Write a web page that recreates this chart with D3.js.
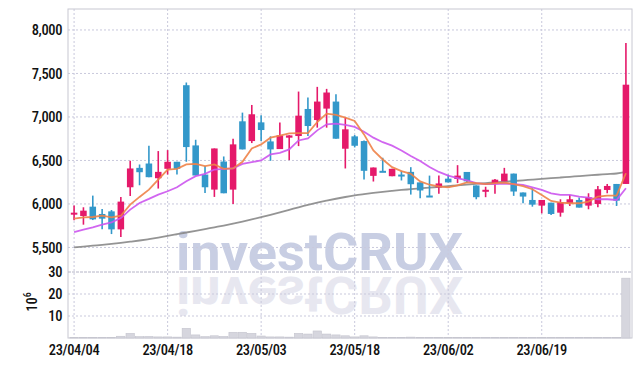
<!DOCTYPE html>
<html><head><meta charset="utf-8">
<script src="https://cdn.jsdelivr.net/npm/d3@7"></script>
<style>
html,body{margin:0;padding:0;background:#fff;}
svg{display:block;}
</style></head>
<body>
<svg id="chart" width="642" height="366" xmlns:xlink="http://www.w3.org/1999/xlink"></svg>
<script>
const dates = ["23/04/04","23/04/05","23/04/06","23/04/07","23/04/10","23/04/11","23/04/12","23/04/13","23/04/14","23/04/17",
"23/04/18","23/04/19","23/04/20","23/04/21","23/04/24","23/04/25","23/04/26","23/04/27","23/04/28","23/05/02",
"23/05/03","23/05/04","23/05/08","23/05/09","23/05/10","23/05/11","23/05/12","23/05/15","23/05/16","23/05/17",
"23/05/18","23/05/19","23/05/22","23/05/23","23/05/24","23/05/25","23/05/26","23/05/30","23/05/31","23/06/01",
"23/06/02","23/06/05","23/06/07","23/06/08","23/06/09","23/06/12","23/06/13","23/06/14","23/06/15","23/06/16",
"23/06/19","23/06/20","23/06/21","23/06/22","23/06/23","23/06/26","23/06/27","23/06/28","23/06/29","23/06/30"];
const openP  = [5885,5862,5969,5885,5915,5708,6192,6415,6465,6296,6404,6485,7365,6673,6338,6165,6488,6165,6950,6723,
6938,6719,6631,6762,6781,7092,6965,7096,7177,6635,6777,6723,6323,6381,6319,6338,6369,6248,6097,6190,
6291,6287,6368,6213,6143,6240,6260,6349,6132,6046,5981,6015,5900,6008,6046,5981,6000,6161,6230,6230];
const highP  = [5981,5962,6096,5942,5931,6081,6496,6454,6669,6608,6619,6485,7396,6738,6435,6638,6546,6750,7050,7138,
7019,6777,6935,6790,7292,7223,7346,7323,7262,6996,6792,6730,6419,6531,6404,6381,6423,6248,6326,6326,
6337,6446,6368,6213,6198,6287,6415,6349,6132,6180,6046,6015,6054,6104,6073,6123,6207,6230,6230,7851];
const lowP   = [5812,5762,5815,5708,5654,5619,6092,6215,6308,6177,6338,6338,6485,6327,6127,6081,6123,6000,6627,6700,
6723,6496,6631,6504,6665,6781,6877,6877,6750,6408,6650,6281,6258,6373,6319,6270,6108,6066,6093,6116,
6248,6240,6245,6054,6078,6116,6260,6093,6008,5969,5892,5873,5854,5977,5958,5939,5962,6123,5977,6230];
const closeP = [5900,5923,5823,5831,5708,6027,6408,6365,6308,6369,6485,6404,6654,6327,6192,6638,6123,6685,6627,7031,
6850,6627,6788,6788,7015,6896,7177,7281,6750,6858,6669,6381,6419,6373,6404,6327,6227,6155,6093,6236,
6248,6326,6260,6078,6163,6279,6349,6143,6085,5992,6046,5885,6019,6054,5958,6077,6169,6207,6038,7371];
const volume = [0.3,0.2,0.3,0.2,0.3,0.8,2.1,0.6,0.7,0.5,0.5,0.4,4.4,1.4,0.6,1.0,0.7,2.6,2.6,2.1,
0.9,0.5,0.5,0.4,2.1,1.8,3.2,1.8,1.4,1.0,0.5,1.0,0.5,0.3,0.3,0.2,0.4,0.3,0.2,0.3,
0.3,0.3,0.3,0.3,0.2,0.2,0.3,0.3,0.2,0.2,0.3,0.2,0.3,0.2,0.2,0.3,0.3,0.2,0.3,27.2];
const ma5 = [5831,5846,5850,5865,5846,5865,5992,6081,6165,6281,6396,6404,6454,6461,6435,6454,6404,6408,6485,6638,
6685,6762,6785,6811,6815,6815,6942,7038,7023,6992,6954,6800,6615,6511,6423,6377,6346,6260,6221,6202,
6190,6213,6248,6240,6229,6240,6245,6229,6205,6169,6104,6035,6015,6008,6008,6027,6085,6096,6096,6353];
const ma20 = [5677,5704,5731,5762,5788,5838,5935,6012,6058,6108,6146,6192,6262,6319,6346,6396,6404,6408,6461,6481,
6500,6569,6588,6627,6730,6754,6846,6915,6923,6908,6885,6831,6762,6710,6670,6615,6552,6494,6425,6368,
6326,6298,6271,6240,6229,6229,6233,6229,6219,6192,6161,6123,6104,6104,6085,6073,6054,6054,6046,6180];
const ma120 = [5500,5510,5520,5530,5541,5553,5566,5580,5596,5613,5632,5652,5672,5692,5712,5732,5752,5774,5797,5822,
5848,5875,5903,5932,5962,5990,6015,6038,6060,6080,6098,6113,6127,6140,6151,6161,6170,6179,6188,6196,
6205,6214,6223,6232,6240,6248,6256,6264,6272,6280,6288,6296,6304,6312,6320,6328,6336,6343,6350,6370];
const priceTicks = [5500,6000,6500,7000,7500,8000];
const volTicks = [10,20,30];
const dateTicks = ["23/04/04","23/04/18","23/05/03","23/05/18","23/06/02","23/06/19"];

const svg = d3.select("#chart");
const L = 68, R = 632, T = 9, PB = 272, VB = 338;
const gridCol = "#c9c9dc", axisCol = "#c8c8d2";
const fontFam = '"Roboto Condensed","Liberation Sans Narrow","DejaVu Sans Condensed",Roboto,sans-serif';

const x = d3.scaleBand().domain(dates).range([L, R]).padding(0.3);
const xc = d => x(d) + x.bandwidth() / 2;
const y = d3.scaleLinear().domain([5218, 8241]).range([PB, T]);
const yv = d3.scaleLinear().domain([0, 30]).range([VB, PB]);

// watermark: text plus a mirrored reflection drawn as a <use> of the same text
const wm = svg.append("g");
wm.append("g").attr("fill", "#c8cee3").append("text").attr("id", "wmText")
  .attr("x", 176).attr("y", 270).text("investCRUX")
  .attr("font-family", "Roboto, 'Liberation Sans', sans-serif").attr("font-weight", 700)
  .attr("font-size", 52).attr("textLength", 287).attr("lengthAdjust", "spacingAndGlyphs");
wm.append("use").attr("href", "#wmText").attr("fill", "#e7e7f0")
  .attr("transform", "translate(0,547) scale(1,-1)");
wm.select("g").raise();

// grids
const grid = svg.append("g");
grid.selectAll(".hg").data(priceTicks).join("line")
  .attr("x1", L).attr("x2", R).attr("y1", d => y(d)).attr("y2", d => y(d))
  .attr("stroke", gridCol).attr("stroke-dasharray", "2,2");
grid.selectAll(".vg").data(volTicks.filter(v => v < 30)).join("line")
  .attr("x1", L).attr("x2", R).attr("y1", d => yv(d)).attr("y2", d => yv(d))
  .attr("stroke", gridCol).attr("stroke-dasharray", "2,2");
grid.selectAll(".xg").data(dateTicks).join("line")
  .attr("x1", d => xc(d)).attr("x2", d => xc(d)).attr("y1", T).attr("y2", VB)
  .attr("stroke", gridCol).attr("stroke-dasharray", "2,2");

// frame
svg.append("rect").attr("x", L).attr("y", T).attr("width", R - L).attr("height", VB - T)
  .attr("fill", "none").attr("stroke", axisCol);
svg.append("line").attr("x1", L).attr("x2", R).attr("y1", PB).attr("y2", PB)
  .attr("stroke", "#b4b4c6").attr("stroke-dasharray", "3,1");

// volume bars
svg.append("g").selectAll("rect").data(dates).join("rect")
  .attr("x", d => x(d) - x.step() * 0.15 + 0.5)
  .attr("width", x.step() - 1)
  .attr("y", (d, i) => yv(volume[i]))
  .attr("height", (d, i) => VB - yv(volume[i]))
  .attr("fill", "#d6d6de").attr("stroke", "#c4c4ce").attr("stroke-width", 0.6);

// MA lines
const line = arr => d3.line().curve(d3.curveMonotoneX).x((d, i) => xc(dates[i])).y(d => y(d))(arr);
const line2 = arr => d3.line().x((d, i) => xc(dates[i])).y(d => y(d))(arr);
svg.append("path").attr("d", line(ma120)).attr("fill", "none").attr("stroke", "#888").attr("stroke-width", 1.8).attr("stroke-opacity", 0.9);

// candles
const cg = svg.append("g");
const up = "#e5196a", dn = "#3398ca";
dates.forEach((d, i) => {
  const col = closeP[i] >= openP[i] ? up : dn;
  cg.append("line").attr("x1", xc(d)).attr("x2", xc(d))
    .attr("y1", y(highP[i])).attr("y2", y(lowP[i]))
    .attr("stroke", col).attr("stroke-width", 1.6);
  const top = y(Math.max(openP[i], closeP[i])), bot = y(Math.min(openP[i], closeP[i]));
  cg.append("rect").attr("x", x(d)).attr("width", x.bandwidth())
    .attr("y", top).attr("height", Math.max(2, bot - top)).attr("fill", col);
});

svg.append("path").attr("d", line2(ma20)).attr("fill", "none").attr("stroke", "#cc55ee").attr("stroke-width", 1.8).attr("stroke-opacity", 0.9);
svg.append("path").attr("d", line2(ma5)).attr("fill", "none").attr("stroke", "#ee8248").attr("stroke-width", 1.8).attr("stroke-opacity", 0.9);

// axes
const yAxis = d3.axisLeft(y).tickValues(priceTicks).tickFormat(d3.format(",")).tickSize(0).tickPadding(6);
const ga = svg.append("g").attr("transform", `translate(${L},0)`).call(yAxis);
const vAxis = d3.axisLeft(yv).tickValues(volTicks).tickFormat(d3.format("d")).tickSize(0).tickPadding(6);
const gv = svg.append("g").attr("transform", `translate(${L},0)`).call(vAxis);
const xAxis = d3.axisBottom(x).tickValues(dateTicks).tickSize(0).tickPadding(7);
const gx = svg.append("g").attr("transform", `translate(0,${VB})`).call(xAxis);
[ga, gv, gx].forEach(g => {
  g.select(".domain").remove();
  g.selectAll("text").attr("font-size", 14.5).attr("font-weight", 500).attr("fill", "#111")
    .attr("letter-spacing", -0.4).attr("font-family", fontFam);
});

// volume unit label
const ul = svg.append("text").attr("transform", "translate(37,302) rotate(-90)")
  .attr("text-anchor", "middle").attr("font-family", fontFam).attr("font-weight", 500)
  .attr("font-size", 14.5).attr("fill", "#111");
ul.append("tspan").text("10");
ul.append("tspan").text("6").attr("font-size", 10).attr("dy", -6);
</script>
</body></html>
